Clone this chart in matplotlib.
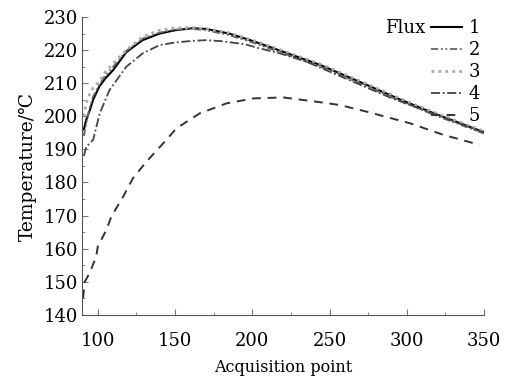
import matplotlib
matplotlib.use("Agg")
import matplotlib.pyplot as plt
from matplotlib.ticker import MultipleLocator

plt.rcParams["font.family"] = ["DejaVu Serif"]

# curves
x_a = [91, 92.6, 95, 97, 101, 105, 110, 118.5, 129, 140, 150, 161, 170, 185,
       200, 220, 244, 274, 296, 317, 347, 350]
flux1 = [196, 199, 202, 205, 209, 211.5, 214, 219.4, 223, 225, 226, 226.6, 226.4,
         225, 222.8, 219.5, 215.5, 209.5, 205, 201, 195.7, 195.2]
flux2 = [194, 198, 203, 206, 209.5, 212.5, 215, 219.8, 223.5, 225.3, 226.2, 226.4,
         226, 224.5, 222.3, 219, 215, 209, 204.6, 200.5, 195.3, 194.8]
flux3 = [200, 204, 207, 208.5, 210.5, 213.5, 216, 220, 224, 226, 226.7, 226.8,
         226.5, 225.2, 223, 219.8, 215.8, 209.8, 205.3, 201.3, 196, 195.5]

x_4 = [91, 92.6, 97, 101.3, 107.7, 118.5, 129, 140, 150, 161.6, 170, 180, 195,
       205, 218, 235, 260, 290, 320, 347, 350]
flux4 = [188, 190.8, 192.9, 200.9, 208, 215, 219, 221.5, 222.3, 222.8, 223, 222.7,
         221.8, 220.5, 219, 216.5, 211.5, 205.5, 200.3, 195.5, 195]

x_5 = [90.5, 91.6, 94.8, 99, 100, 105.6, 108.8, 116.4, 122.8, 131.5, 142.3, 151,
       166, 183.3, 200.6, 220, 241.6, 256.7, 274, 302, 323.6, 343, 347]
flux5 = [145, 150, 152.7, 157.6, 160.6, 165.7, 169.7, 175.7, 181.3, 186.3, 191.8,
         196.4, 200.9, 203.9, 205.4, 205.7, 204.4, 203.4, 201.4, 197.9, 194.4,
         191.9, 191.5]

fig = plt.figure(figsize=(5.08, 3.78), dpi=100)
ax = fig.add_axes([0.162, 0.167, 0.791, 0.788])

ax.plot(x_a, flux1, color="black", lw=1.5, ls="-", label="1")
ax.plot(x_a, flux2, color="#666666", lw=1.3, ls=(0, (4, 1.5, 1, 1.5, 1, 1.5)), label="2")
ax.plot(x_a, flux3, color="#aaaaaa", lw=2.0, ls=(0, (1, 1.5)), label="3")
ax.plot(x_4, flux4, color="#444444", lw=1.3, ls=(0, (5, 1.5, 1, 1.5)), label="4")
ax.plot(x_5, flux5, color="#333333", lw=1.4, ls=(0, (4.5, 3.5)), label="5")

ax.set_xlim(90, 350)
ax.set_ylim(140, 230)
ax.xaxis.set_major_locator(MultipleLocator(50))
ax.xaxis.set_minor_locator(MultipleLocator(25))
ax.yaxis.set_major_locator(MultipleLocator(10))
ax.yaxis.set_minor_locator(MultipleLocator(5))
ax.tick_params(which="both", direction="in", color="#777777", labelsize=13)
ax.tick_params(which="major", length=4)
ax.tick_params(which="minor", length=2.5)
ax.tick_params(axis="x", pad=12)
ax.tick_params(axis="y", pad=3)
for side in ("top", "right"):
    ax.spines[side].set_visible(False)
for side in ("left", "bottom"):
    ax.spines[side].set_color("#555555")

ax.set_xlabel("Acquisition point", fontsize=11.5, labelpad=7)
ax.set_ylabel("Temperature/\u2103", fontsize=13.5, labelpad=5)

leg = ax.legend(loc="upper right", bbox_to_anchor=(480 / 508, 1 - 19 / 378),
                bbox_transform=fig.transFigure, frameon=False,
                fontsize=13, handlelength=1.7, handletextpad=0.35,
                labelspacing=0.22, borderaxespad=0, borderpad=0)
fig.text(425 / 508, 1 - 28 / 378, "Flux", ha="right", va="center", fontsize=13)

fig.savefig("out.png", dpi=100)
